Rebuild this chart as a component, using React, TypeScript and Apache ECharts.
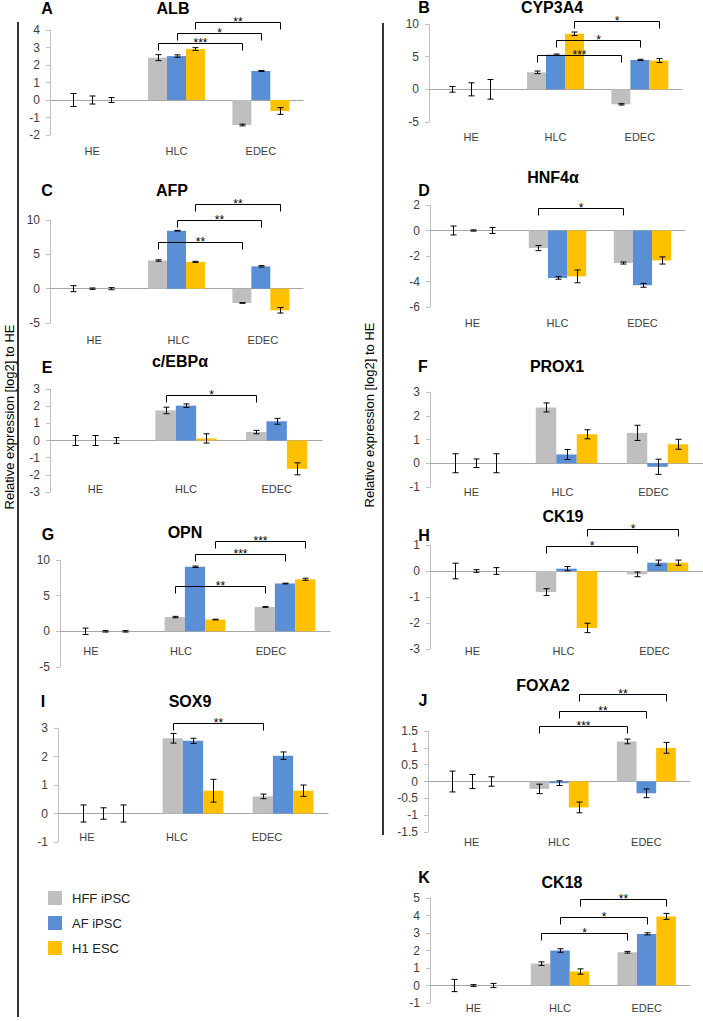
import React, { useEffect, useRef } from 'react';
import * as echarts from 'echarts';

const categories = ['HE', 'HLC', 'EDEC'];
const seriesNames = ['HFF iPSC', 'AF iPSC', 'H1 ESC'];
const seriesColors = ['#BFBFBF', '#5B8FD5', '#FFC000'];
const yAxisTitle = 'Relative expression [log2] to HE';

// means per series (HFF, AF, H1) over categories (HE, HLC, EDEC)
const albMeans = [[0, 2.42, -1.43], [0, 2.51, 1.66], [0, 2.91, -0.63]];
const albErrors = [[0.37, 0.17, 0.05], [0.23, 0.07, 0.03], [0.14, 0.08, 0.19]];
const albSig: [number, number, string][] = [[0, 3.24, '***'], [1, 3.85, '*'], [2, 4.47, '**']];

const cyp3a4Means = [[0, 2.6, -2.3], [0, 5.3, 4.5], [0, 8.5, 4.4]];
const cyp3a4Errors = [[0.43, 0.2, 0.1], [1.0, 0.1, 0.1], [1.5, 0.27, 0.3]];
const cyp3a4Sig: [number, number, string][] = [[0, 5.3, '***'], [1, 7.6, '*'], [2, 10.45, '*']];

const afpMeans = [[0, 4.1, -2.08], [0, 8.44, 3.25], [0, 3.9, -3.15]];
const afpErrors = [[0.44, 0.1, 0.05], [0.1, 0.05, 0.1], [0.15, 0.08, 0.4]];
const afpSig: [number, number, string][] = [[0, 6.8, '**'], [1, 10.0, '**'], [2, 12.3, '**']];

const hnf4aMeans = [[0, -1.38, -2.55], [0, -3.72, -4.3], [0, -3.6, -2.35]];
const hnf4aErrors = [[0.35, 0.2, 0.08], [0.05, 0.1, 0.15], [0.23, 0.5, 0.28]];
const hnf4aSig: [number, number, string][] = [[0, 1.74, '*']];

const cebpaMeans = [[0, 1.75, 0.49], [0, 2.03, 1.12], [0, 0.12, -1.65]];
const cebpaErrors = [[0.29, 0.19, 0.1], [0.29, 0.1, 0.17], [0.17, 0.27, 0.35]];
const cebpaSig: [number, number, string][] = [[0, 2.67, '*']];

const prox1Means = [[0, 2.35, 1.28], [0, 0.37, -0.15], [0, 1.22, 0.8]];
const prox1Errors = [[0.4, 0.19, 0.32], [0.18, 0.21, 0.32], [0.4, 0.19, 0.21]];
const prox1Sig: [number, number, string][] = [];

const opnMeans = [[0, 2.0, 3.42], [0, 9.05, 6.7], [0, 1.65, 7.3]];
const opnErrors = [[0.45, 0.1, 0.05], [0.1, 0.1, 0.05], [0.1, 0.05, 0.15]];
const opnSig: [number, number, string][] = [[0, 6.4, '**'], [1, 10.9, '***'], [2, 12.7, '***']];

const ck19Means = [[0, -0.81, -0.13], [0, 0.09, 0.32], [0, -2.19, 0.32]];
const ck19Errors = [[0.3, 0.13, 0.09], [0.05, 0.08, 0.1], [0.13, 0.18, 0.1]];
const ck19Sig: [number, number, string][] = [[0, 0.95, '*'], [2, 1.62, '*']];

const sox9Means = [[0, 2.64, 0.6], [0, 2.55, 2.03], [0, 0.8, 0.8]];
const sox9Errors = [[0.3, 0.17, 0.08], [0.2, 0.09, 0.13], [0.3, 0.4, 0.2]];
const sox9Sig: [number, number, string][] = [[0, 3.19, '**']];

const foxa2Means = [[0, -0.22, 1.19], [0, -0.05, -0.35], [0, -0.77, 1.0]];
const foxa2Errors = [[0.31, 0.14, 0.07], [0.21, 0.07, 0.13], [0.14, 0.16, 0.16]];
const foxa2Sig: [number, number, string][] = [[0, 1.65, '***'], [1, 2.1, '**'], [2, 2.59, '**']];

const ck18Means = [[0, 1.25, 1.9], [0, 2.0, 2.95], [0, 0.8, 3.95]];
const ck18Errors = [[0.35, 0.1, 0.05], [0.05, 0.1, 0.06], [0.12, 0.15, 0.17]];
const ck18Sig: [number, number, string][] = [[0, 3.0, '*'], [1, 3.9, '*'], [2, 4.93, '**']];

const panels = [
  { letter: 'A', title: 'ALB', means: albMeans, errors: albErrors, sig: albSig, min: -2, max: 4, interval: 1 },
  { letter: 'C', title: 'AFP', means: afpMeans, errors: afpErrors, sig: afpSig, min: -5, max: 10, interval: 5 },
  { letter: 'E', title: 'c/EBPα', means: cebpaMeans, errors: cebpaErrors, sig: cebpaSig, min: -3, max: 3, interval: 1 },
  { letter: 'G', title: 'OPN', means: opnMeans, errors: opnErrors, sig: opnSig, min: -5, max: 10, interval: 5 },
  { letter: 'I', title: 'SOX9', means: sox9Means, errors: sox9Errors, sig: sox9Sig, min: -1, max: 3, interval: 1 },
  { letter: 'B', title: 'CYP3A4', means: cyp3a4Means, errors: cyp3a4Errors, sig: cyp3a4Sig, min: -5, max: 10, interval: 5 },
  { letter: 'D', title: 'HNF4α', means: hnf4aMeans, errors: hnf4aErrors, sig: hnf4aSig, min: -6, max: 2, interval: 2 },
  { letter: 'F', title: 'PROX1', means: prox1Means, errors: prox1Errors, sig: prox1Sig, min: -1, max: 3, interval: 1 },
  { letter: 'H', title: 'CK19', means: ck19Means, errors: ck19Errors, sig: ck19Sig, min: -3, max: 1, interval: 1 },
  { letter: 'J', title: 'FOXA2', means: foxa2Means, errors: foxa2Errors, sig: foxa2Sig, min: -1.5, max: 1.5, interval: 0.5 },
  { letter: 'K', title: 'CK18', means: ck18Means, errors: ck18Errors, sig: ck18Sig, min: -1, max: 5, interval: 1 },
];

// layout (pixels)
const layouts = [
  { left: 50, right: 303, top: 30, bottom: 135, labelY: 151, labelDx: 0, lx: 47, ly: 8, tx: 173, ty: 8 },
  { left: 50, right: 303, top: 220, bottom: 323, labelY: 340, labelDx: 2, lx: 47, ly: 190, tx: 172, ty: 190 },
  { left: 50, right: 322, top: 389, bottom: 492, labelY: 489, labelDx: 0, lx: 47, ly: 367, tx: 180, ty: 361 },
  { left: 60, right: 330, top: 560, bottom: 667, labelY: 651, labelDx: -14, lx: 48, ly: 534, tx: 185, ty: 532 },
  { left: 58, right: 328, top: 728, bottom: 842, labelY: 837, labelDx: -16, lx: 43, ly: 701, tx: 190, ty: 701 },
  { left: 429, right: 682, top: 24, bottom: 122, labelY: 137, labelDx: 0, lx: 424, ly: 7, tx: 552, ty: 7 },
  { left: 430, right: 685, top: 205, bottom: 307, labelY: 323, labelDx: 0, lx: 424, ly: 190, tx: 553, ty: 177 },
  { left: 430, right: 703, top: 392, bottom: 487, labelY: 492, labelDx: -4, lx: 423, ly: 366, tx: 557, ty: 366 },
  { left: 430, right: 703, top: 545, bottom: 649, labelY: 651, labelDx: -3, lx: 424, ly: 535, tx: 563, ty: 516 },
  { left: 428, right: 690, top: 731, bottom: 832, labelY: 842, labelDx: 0, lx: 423, ly: 700, tx: 543, ty: 685 },
  { left: 430, right: 690, top: 898, bottom: 1003, labelY: 1008, labelDx: 0, lx: 424, ly: 877, tx: 562, ty: 882 },
];

const BAR_FRACTION = 0.225;
const FONT = '"Liberation Sans", Arial, sans-serif';

function buildOption() {
  const grid: any[] = [];
  const xAxis: any[] = [];
  const yAxis: any[] = [];
  const series: any[] = [];
  const graphic: any[] = [];

  panels.forEach((p, i) => {
    const L = layouts[i];
    grid.push({ left: L.left, top: L.top, width: L.right - L.left, height: L.bottom - L.top });
    xAxis.push({
      gridIndex: i, type: 'category', data: categories, position: 'top',
      axisLine: { show: true, onZero: true, lineStyle: { color: '#A6A6A6', width: 1 } },
      axisTick: { show: false }, axisLabel: { show: false }, splitLine: { show: false },
    });
    const dx = L.labelDx;
    xAxis.push({
      gridIndex: i, type: 'category', data: categories, position: 'bottom',
      axisLine: { show: false, onZero: false }, axisTick: { show: false }, splitLine: { show: false },
      axisLabel: {
        show: true, interval: 0, fontSize: 11, color: '#404040', fontFamily: FONT,
        margin: L.labelY - L.bottom - 6,
        padding: [0, dx < 0 ? -2 * dx : 0, 0, dx > 0 ? 2 * dx : 0],
      },
    });
    yAxis.push({
      gridIndex: i, type: 'value', min: p.min, max: p.max, interval: p.interval,
      axisLine: { show: true, lineStyle: { color: '#BFBFBF' } },
      axisTick: { show: true, length: 4, lineStyle: { color: '#BFBFBF' } },
      axisLabel: { fontSize: 12, color: '#404040', margin: 10, fontFamily: FONT },
      splitLine: { show: false },
    });
    for (let s = 0; s < 3; s++) {
      series.push({
        type: 'bar', name: seriesNames[s], xAxisIndex: 2 * i, yAxisIndex: i,
        data: p.means[s], barWidth: (BAR_FRACTION * 100) + '%', barGap: '0%',
        itemStyle: { color: seriesColors[s] }, silent: true,
      });
    }
    const errData: number[][] = [];
    for (let s = 0; s < 3; s++) {
      for (let c = 0; c < 3; c++) errData.push([c, p.means[s][c], p.errors[s][c], s]);
    }
    series.push({
      type: 'custom', xAxisIndex: 2 * i, yAxisIndex: i, clip: false, z: 5, silent: true,
      encode: { x: 0, y: 1 },
      data: errData,
      renderItem: (params: any, api: any) => {
        const c = api.value(0), v = api.value(1), e = api.value(2), s = api.value(3);
        const band = api.size([1, 0])[0];
        const cx = Math.round(api.coord([c, v])[0] + (s - 1) * band * BAR_FRACTION) + 0.5;
        const yT = api.coord([c, v + e])[1];
        const yB = api.coord([c, v - e])[1];
        const st = { stroke: '#000', lineWidth: 1 };
        return {
          type: 'group', children: [
            { type: 'line', shape: { x1: cx, y1: yT, x2: cx, y2: yB }, style: st },
            { type: 'line', shape: { x1: cx - 3, y1: yT, x2: cx + 3, y2: yT }, style: st },
            { type: 'line', shape: { x1: cx - 3, y1: yB, x2: cx + 3, y2: yB }, style: st },
          ],
        };
      },
    });
    if (p.sig.length) {
      const sig = p.sig;
      series.push({
        type: 'custom', xAxisIndex: 2 * i, yAxisIndex: i, clip: false, z: 6, silent: true,
        encode: { x: 0, y: 1 },
        data: sig.map((d) => [d[0], d[1]]),
        renderItem: (params: any, api: any) => {
          const s = api.value(0), y = api.value(1);
          const band = api.size([1, 0])[0];
          const off = (s - 1) * band * BAR_FRACTION;
          const p1 = api.coord([1, y]);
          const p2 = api.coord([2, y]);
          const x1 = Math.round(p1[0] + off) + 0.5;
          const x2 = Math.round(p2[0] + off) + 0.5;
          const py = Math.round(p1[1]) + 0.5;
          return {
            type: 'group', children: [
              { type: 'polyline', shape: { points: [[x1, py + 7], [x1, py], [x2, py], [x2, py + 7]] }, style: { stroke: '#000', lineWidth: 1, fill: null } },
              { type: 'text', x: (x1 + x2) / 2, y: py - 1, style: { text: sig[params.dataIndex][2], fontSize: 12, fill: '#000', align: 'center', verticalAlign: 'middle', fontFamily: FONT } },
            ],
          };
        },
      });
    }
    graphic.push({ type: 'text', x: L.lx, y: L.ly, style: { text: p.letter, fontSize: 16, fontWeight: 'bold', fill: '#000', align: 'center', verticalAlign: 'middle', fontFamily: FONT } });
    graphic.push({ type: 'text', x: L.tx, y: L.ty, style: { text: p.title, fontSize: 16, fontWeight: 'bold', fill: '#000', align: 'center', verticalAlign: 'middle', fontFamily: FONT } });
  });

  graphic.push({ type: 'line', shape: { x1: 18, y1: 22, x2: 18, y2: 1017 }, style: { stroke: '#333', lineWidth: 2 } });
  graphic.push({ type: 'line', shape: { x1: 383, y1: 23, x2: 383, y2: 835 }, style: { stroke: '#333', lineWidth: 2 } });
  graphic.push({ type: 'text', x: 9, y: 417, rotation: Math.PI / 2, style: { text: yAxisTitle, fontSize: 13, fill: '#000', align: 'center', verticalAlign: 'middle', fontFamily: FONT } });
  graphic.push({ type: 'text', x: 369, y: 415, rotation: Math.PI / 2, style: { text: yAxisTitle, fontSize: 13, fill: '#000', align: 'center', verticalAlign: 'middle', fontFamily: FONT } });

  return {
    animation: false,
    textStyle: { fontFamily: FONT },
    legend: {
      data: seriesNames, orient: 'vertical', left: 48, top: 891, padding: 0,
      itemWidth: 14, itemHeight: 14, itemGap: 11, icon: 'rect', selectedMode: false,
      textStyle: { fontSize: 13, color: '#222', padding: [0, 0, 0, 5], fontFamily: FONT },
    },
    grid, xAxis, yAxis, series, graphic,
  };
}

export default function App() {
  const ref = useRef<HTMLDivElement>(null);
  useEffect(() => {
    if (!ref.current) return;
    const chart = echarts.init(ref.current, null, { renderer: 'svg' });
    chart.setOption(buildOption() as any);
    return () => chart.dispose();
  }, []);
  return (
    <div
      ref={ref}
      style={{ position: 'absolute', left: 0, top: 0, width: 703, height: 1021, background: '#fff' }}
    />
  );
}
